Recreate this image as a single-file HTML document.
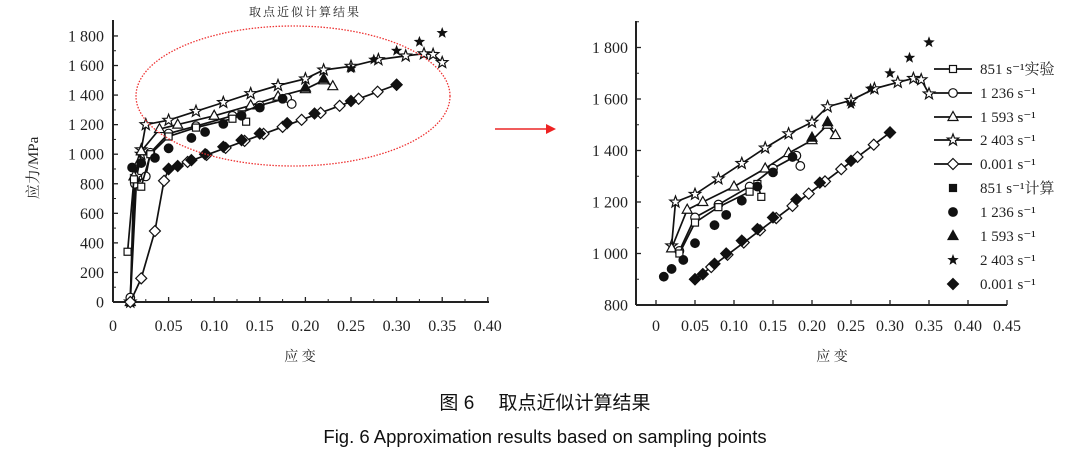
<!DOCTYPE html>
<html><head><meta charset="utf-8"><style>
html,body{margin:0;padding:0;background:#fff;width:1090px;height:452px;overflow:hidden}
svg text{font-family:"Liberation Serif","Noto Serif CJK SC",serif;fill:#222}
.cap{font-family:"Liberation Sans","Noto Sans CJK SC",sans-serif;fill:#111}
</style></head><body>
<svg id="s" width="1090" height="452" xmlns="http://www.w3.org/2000/svg"></svg>
<script>
const S=document.getElementById('s');let h='';
function P(pts,fx,fy){return pts.map(p=>fx(p[0]).toFixed(1)+','+fy(p[1]).toFixed(1)).join(' ')}
function mk(type,x,y,fill){const f=fill?'#111':'#fff',st='stroke="#111" stroke-width="1.2"';
 if(type=='sq')return `<rect x="${x-3.5}" y="${y-3.5}" width="7" height="7" fill="${f}" ${st}/>`;
 if(type=='ci')return `<circle cx="${x}" cy="${y}" r="4.3" fill="${f}" ${st}/>`;
 if(type=='tr')return `<polygon points="${x},${y-5.5} ${x+5},${y+3.5} ${x-5},${y+3.5}" fill="${f}" ${st}/>`;
 if(type=='di')return `<polygon points="${x},${y-5.5} ${x+5.5},${y} ${x},${y+5.5} ${x-5.5},${y}" fill="${f}" ${st}/>`;
 if(type=='st'){let p=[];for(let i=0;i<10;i++){const r=i%2?2.5:6,a=-Math.PI/2+i*Math.PI/5;p.push((x+r*Math.cos(a)).toFixed(1)+','+(y+r*Math.sin(a)).toFixed(1))}return `<polygon points="${p.join(' ')}" fill="${f}" ${fill?'':st}/>`;}
}
const L2403=[[0.02,1030],[0.025,1200],[0.05,1230],[0.08,1290],[0.11,1350],[0.14,1410],[0.17,1465],[0.2,1510],[0.22,1570],[0.25,1595],[0.28,1640],[0.31,1665],[0.33,1680],[0.34,1675],[0.35,1620]];
const L1593=[[0.02,1020],[0.04,1170],[0.06,1200],[0.1,1260],[0.14,1330],[0.17,1390],[0.2,1440],[0.22,1500],[0.23,1460]];
const L1236=[[0.03,1010],[0.05,1140],[0.08,1190],[0.12,1260],[0.15,1330],[0.18,1380],[0.185,1340]];
const L851=[[0.03,1000],[0.05,1120],[0.08,1180],[0.12,1240],[0.13,1270],[0.135,1220]];
const L001=[];for(let i=0;i<=12;i++){const e=0.05+i*0.25/12;L001.push([e,900+(e-0.05)*570/0.25])}
const CI=[[0.01,910],[0.02,940],[0.035,975],[0.05,1040],[0.075,1110],[0.09,1150],[0.11,1205],[0.13,1260],[0.15,1315],[0.175,1375]];
const TR=[[0.2,1450],[0.22,1510]];
const ST=[[0.25,1580],[0.275,1640],[0.3,1700],[0.325,1760],[0.35,1820]];
const DI=[[0.05,900],[0.06,920],[0.075,960],[0.09,1000],[0.11,1050],[0.13,1095],[0.15,1140],[0.18,1210],[0.21,1275],[0.25,1360],[0.30,1470]];
function series(fx,fy,pre){
 const lines=[[L2403,'st'],[L1593,'tr'],[L1236,'ci'],[L851,'sq'],[L001,'di']];
 lines.forEach(([d,m])=>{const dd=(pre&&pre[m]?pre[m]:[]).concat(d);
  h+=`<polyline points="${P(dd,fx,fy)}" fill="none" stroke="#111" stroke-width="1.7"/>`;
  dd.forEach((p,i)=>{h+=mk(m,fx(p[0]),fy(p[1]),false)})});
 CI.forEach(p=>h+=mk('ci',fx(p[0]),fy(p[1]),true));
 TR.forEach(p=>h+=mk('tr',fx(p[0]),fy(p[1]),true));
 ST.forEach(p=>h+=mk('st',fx(p[0]),fy(p[1]),true));
 DI.forEach(p=>h+=mk('di',fx(p[0]),fy(p[1]),true));
}
// LEFT
{const fx=e=>123+912*e,fy=s=>302-0.1478*s;
 h+=`<line x1="113" y1="20" x2="113" y2="302" stroke="#222" stroke-width="2"/><line x1="113" y1="302" x2="489" y2="302" stroke="#222" stroke-width="2"/>`;
 for(let v=0;v<=1800;v+=200){const y=fy(v);h+=`<line x1="113" y1="${y}" x2="118" y2="${y}" stroke="#222" stroke-width="1.3"/><text x="104" y="${y+5.5}" font-size="16" text-anchor="end">${v>=1000?String(v)[0]+' '+String(v).slice(1):v}</text>`;
  if(v<1800)h+=`<line x1="113" y1="${fy(v+100)}" x2="116" y2="${fy(v+100)}" stroke="#222"/>`;}
 ['0','0.05','0.10','0.15','0.20','0.25','0.30','0.35','0.40'].forEach((t,i)=>{const x=i==0?113:fx(i*0.05);h+=`<line x1="${x}" y1="302" x2="${x}" y2="297" stroke="#222" stroke-width="1.3"/><text x="${x}" y="331" font-size="16" text-anchor="middle">${t}</text>`;if(i<8)h+=`<line x1="${fx(i*0.05+0.025)}" y1="302" x2="${fx(i*0.05+0.025)}" y2="299" stroke="#222"/>`});
 h+=`<text x="300" y="361" font-size="14" text-anchor="middle">应 变</text>`;
 h+=`<text transform="translate(38,168) rotate(-90)" font-size="15" text-anchor="middle">应力/MPa</text>`;
 h+=`<text x="305" y="16" font-size="12" text-anchor="middle" letter-spacing="2">取点近似计算结果</text>`;
 const pre={st:[[0.008,0],[0.015,850],[0.02,1000]],tr:[[0.008,0],[0.012,850],[0.018,950]],ci:[[0.008,30],[0.013,800],[0.025,850]],sq:[[0.005,340],[0.012,830],[0.02,780]],di:[[0.008,0],[0.02,160],[0.035,480],[0.045,820],[0.05,900]]};
 series(fx,fy,pre);
 h+=`<ellipse cx="293" cy="96" rx="157" ry="70" fill="none" stroke="#e33" stroke-width="1.3" stroke-dasharray="1.5,1.5"/>`;
}
h+=`<line x1="495" y1="129" x2="548" y2="129" stroke="#e44" stroke-width="1.8"/><polygon points="556,129 546,124 546,134" fill="#e22"/>`;
// RIGHT
{const fx=e=>656+780*e,fy=s=>305-(s-800)*0.2575;
 h+=`<line x1="636" y1="21" x2="636" y2="305" stroke="#222" stroke-width="2"/><line x1="636" y1="305" x2="1007" y2="305" stroke="#222" stroke-width="2"/>`;
 for(let v=800;v<=1800;v+=200){const y=fy(v);h+=`<line x1="636" y1="${y}" x2="641" y2="${y}" stroke="#222" stroke-width="1.3"/><text x="628" y="${y+5.5}" font-size="16" text-anchor="end">${v>=1000?String(v)[0]+' '+String(v).slice(1):v}</text>`;
  h+=`<line x1="636" y1="${fy(v+100)}" x2="639" y2="${fy(v+100)}" stroke="#222"/>`;}
 ['0','0.05','0.10','0.15','0.20','0.25','0.30','0.35','0.40','0.45'].forEach((t,i)=>{const x=fx(i*0.05);h+=`<line x1="${x}" y1="305" x2="${x}" y2="300" stroke="#222" stroke-width="1.3"/><text x="${x}" y="331" font-size="16" text-anchor="middle">${t}</text>`});
 h+=`<text x="832" y="361" font-size="14" text-anchor="middle">应 变</text>`;
 series(fx,fy,null);
 const leg=[['sq',0,'851 s⁻¹实验'],['ci',0,'1 236 s⁻¹'],['tr',0,'1 593 s⁻¹'],['st',0,'2 403 s⁻¹'],['di',0,'0.001 s⁻¹'],['sq',1,'851 s⁻¹计算'],['ci',1,'1 236 s⁻¹'],['tr',1,'1 593 s⁻¹'],['st',1,'2 403 s⁻¹'],['di',1,'0.001 s⁻¹']];
 const ly=[69,93,117,140,164,188,212,236,260,284];
 leg.forEach((l,i)=>{const y=ly[i];if(!l[1])h+=`<line x1="934" y1="${y}" x2="972" y2="${y}" stroke="#111" stroke-width="1.8"/>`;h+=mk(l[0],953,y,l[1]);h+=`<text x="980" y="${y+5}" font-size="15">${l[2]}</text>`});
}
h+=`<text class="cap" x="545" y="409" font-size="19" text-anchor="middle">图 6　 取点近似计算结果</text>`;
h+=`<text class="cap" x="545" y="443" font-size="18.5" text-anchor="middle">Fig.  6  Approximation results based on sampling points</text>`;
S.innerHTML=h;
</script>
</body></html>
